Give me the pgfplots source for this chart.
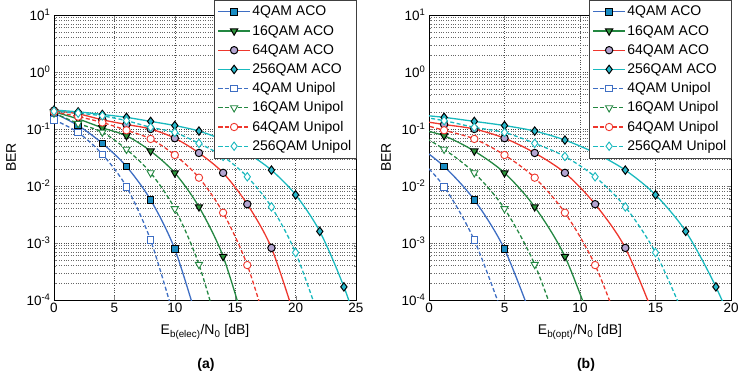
\documentclass[border=0pt]{standalone}
\usepackage{pgfplots}
\pgfplotsset{compat=1.18}
\usepackage{pgfplotstable}
\usepackage{fontspec}
\setmainfont{Liberation Sans}

\definecolor{cblue}{RGB}{62,110,195}
\definecolor{cbluefill}{RGB}{25,140,195}
\definecolor{cgreen}{RGB}{35,135,65}
\definecolor{cgreenfill}{RGB}{45,150,60}
\definecolor{cred}{RGB}{238,55,45}
\definecolor{cpurple}{RGB}{180,165,210}
\definecolor{ccyan}{RGB}{25,185,190}
\definecolor{ccyanfill}{RGB}{40,185,205}

\pgfplotstableread{
x   aA      aB      aC      aD      uA      uB      uC      uD
0   0.19    0.20    0.21    0.215   0.145   0.19    0.20    0.205
2   0.115   0.15    0.185   0.20    0.087   0.125   0.165   0.19
4   0.056   0.105   0.145   0.18    0.036   0.088   0.13    0.17
6   0.022   0.076   0.12    0.16    0.0097  0.044   0.095   0.14
8   0.0057  0.041   0.10    0.136   0.00112 0.017   0.067   0.107
10  7.8e-4  0.017   0.069   0.115   4.5e-5  0.0040  0.035   0.087
12  3.5e-5  0.0043  0.038   0.092   nan     4.2e-4  0.014   0.056
14  nan     5.8e-4  0.017   0.064   nan     1.5e-5  0.0034  0.033
16  nan     2.5e-5  0.0048  0.038   nan     nan     4.1e-4  0.0145
18  nan     nan     8.2e-4  0.019   nan     nan     1.8e-5  0.0043
20  nan     nan     4.5e-5  0.007   nan     nan     nan     6.8e-4
22  nan     nan     nan     0.0016  nan     nan     nan     4.5e-5
24  nan     nan     nan     1.7e-4  nan     nan     nan     nan
26  nan     nan     nan     1.0e-5  nan     nan     nan     nan
}\berdata

\tikzset{
  acoA/.style={cblue, solid, line width=1.3pt, smooth, mark=square*, mark size=3.3pt, mark options={solid, fill=cbluefill, draw=black, line width=1pt}},
  acoB/.style={cgreen, solid, line width=1.3pt, smooth, mark=triangle*, mark size=4.2pt, mark options={solid, rotate=180, fill=cgreenfill, draw=black, line width=1pt}},
  acoC/.style={cred, solid, line width=1.3pt, smooth, mark=*, mark size=3.7pt, mark options={solid, fill=cpurple, draw=black, line width=1pt}},
  acoD/.style={ccyan, solid, line width=1.3pt, smooth, mark=diamond*, mark size=4.2pt, mark options={solid, fill=ccyanfill, draw=black, line width=1pt}},
  uniA/.style={cblue, dash pattern=on 4pt off 2.5pt, line width=1.3pt, smooth, mark=square*, mark size=3.3pt, mark options={solid, fill=white, draw=cblue, line width=0.9pt}},
  uniB/.style={cgreen, dash pattern=on 4pt off 2.5pt, line width=1.3pt, smooth, mark=triangle*, mark size=4.2pt, mark options={solid, rotate=180, fill=white, draw=cgreen, line width=0.9pt}},
  uniC/.style={cred, dash pattern=on 4pt off 2.5pt, line width=1.3pt, smooth, mark=*, mark size=3.7pt, mark options={solid, fill=white, draw=cred, line width=0.9pt}},
  uniD/.style={ccyan, dash pattern=on 4pt off 2.5pt, line width=1.3pt, smooth, mark=diamond*, mark size=4.2pt, mark options={solid, fill=white, draw=ccyan, line width=0.9pt}},
}

\begin{document}
\begin{tikzpicture}
\path[use as bounding box] (0pt,0pt) rectangle (739pt,378pt);

% ---------- (a) ----------
\begin{axis}[at={(54pt,78pt)}, anchor=south west,
    scale only axis, width=302pt, height=285pt,
    ymode=log, ymin=1e-4, ymax=10,
    ytick={1e-4,1e-3,1e-2,1e-1,1,10},
    yticklabels={10\textsuperscript{-4},10\textsuperscript{-3},10\textsuperscript{-2},10\textsuperscript{-1},10\textsuperscript{0},10\textsuperscript{1}},
    minor ytick={2e-4,3e-4,4e-4,5e-4,6e-4,7e-4,8e-4,9e-4,2e-3,3e-3,4e-3,5e-3,6e-3,7e-3,8e-3,9e-3,2e-2,3e-2,4e-2,5e-2,6e-2,7e-2,8e-2,9e-2,0.2,0.3,0.4,0.5,0.6,0.7,0.8,0.9,2,3,4,5,6,7,8,9},
    grid=both,
    major grid style={dotted, black!70, line width=0.5pt},
    minor grid style={dotted, black!60, line width=0.5pt},
    major tick length=4pt, minor tick length=2pt,
    axis line style={black, line width=0.6pt},
    /pgf/number format/assume math mode=true,
    tick label style={font=\fontsize{13.5}{16}\selectfont},
    xlabel style={font=\fontsize{14}{17}\selectfont, at={(axis description cs:0.5,-0.112)}, anchor=center},
    ylabel style={font=\fontsize{14}{17}\selectfont, at={(axis description cs:-0.142,0.5)}, anchor=center},
    ylabel={BER},
    legend style={at={(axis description cs:1,1.0526)}, anchor=north east,
      font=\fontsize{14}{17}\selectfont, draw=black!75, fill=white,
      inner xsep=3pt, inner ysep=2pt,
      nodes={inner sep=1.6pt, text height=12pt, text depth=4pt}},
    legend cell align=left,
    legend image code/.code={\draw[mark repeat=2,mark phase=2] plot coordinates {(0pt,0pt) (16pt,0pt) (32pt,0pt)};},
  xmin=0, xmax=25, xtick={0,5,10,15,20,25},
  xlabel={E\textsubscript{b(elec)}/N\textsubscript{0} [dB]}]
\addplot[acoA] table[x=x, y=aA] {\berdata};
\addplot[acoB] table[x=x, y=aB] {\berdata};
\addplot[acoC] table[x=x, y=aC] {\berdata};
\addplot[acoD] table[x=x, y=aD] {\berdata};
\addplot[uniA] table[x=x, y=uA] {\berdata};
\addplot[uniB] table[x=x, y=uB] {\berdata};
\addplot[uniC] table[x=x, y=uC] {\berdata};
\addplot[uniD] table[x=x, y=uD] {\berdata};
\legend{4QAM ACO,16QAM ACO,64QAM ACO,256QAM ACO,4QAM Unipol,16QAM Unipol,64QAM Unipol,256QAM Unipol}
\end{axis}

% ---------- (b) ----------
\begin{axis}[at={(429pt,78pt)}, anchor=south west,
    scale only axis, width=302pt, height=285pt,
    ymode=log, ymin=1e-4, ymax=10,
    ytick={1e-4,1e-3,1e-2,1e-1,1,10},
    yticklabels={10\textsuperscript{-4},10\textsuperscript{-3},10\textsuperscript{-2},10\textsuperscript{-1},10\textsuperscript{0},10\textsuperscript{1}},
    minor ytick={2e-4,3e-4,4e-4,5e-4,6e-4,7e-4,8e-4,9e-4,2e-3,3e-3,4e-3,5e-3,6e-3,7e-3,8e-3,9e-3,2e-2,3e-2,4e-2,5e-2,6e-2,7e-2,8e-2,9e-2,0.2,0.3,0.4,0.5,0.6,0.7,0.8,0.9,2,3,4,5,6,7,8,9},
    grid=both,
    major grid style={dotted, black!70, line width=0.5pt},
    minor grid style={dotted, black!60, line width=0.5pt},
    major tick length=4pt, minor tick length=2pt,
    axis line style={black, line width=0.6pt},
    /pgf/number format/assume math mode=true,
    tick label style={font=\fontsize{13.5}{16}\selectfont},
    xlabel style={font=\fontsize{14}{17}\selectfont, at={(axis description cs:0.5,-0.112)}, anchor=center},
    ylabel style={font=\fontsize{14}{17}\selectfont, at={(axis description cs:-0.142,0.5)}, anchor=center},
    ylabel={BER},
    legend style={at={(axis description cs:1,1.0526)}, anchor=north east,
      font=\fontsize{14}{17}\selectfont, draw=black!75, fill=white,
      inner xsep=3pt, inner ysep=2pt,
      nodes={inner sep=1.6pt, text height=12pt, text depth=4pt}},
    legend cell align=left,
    legend image code/.code={\draw[mark repeat=2,mark phase=2] plot coordinates {(0pt,0pt) (16pt,0pt) (32pt,0pt)};},
  xmin=0, xmax=20, xtick={0,5,10,15,20},
  xlabel={E\textsubscript{b(opt)}/N\textsubscript{0} [dB]}]
\addplot[acoA] table[x expr=\thisrow{x}-5, y=aA] {\berdata};
\addplot[acoB] table[x expr=\thisrow{x}-5, y=aB] {\berdata};
\addplot[acoC] table[x expr=\thisrow{x}-5, y=aC] {\berdata};
\addplot[acoD] table[x expr=\thisrow{x}-5, y=aD] {\berdata};
\addplot[uniA] table[x expr=\thisrow{x}-5, y=uA] {\berdata};
\addplot[uniB] table[x expr=\thisrow{x}-5, y=uB] {\berdata};
\addplot[uniC] table[x expr=\thisrow{x}-5, y=uC] {\berdata};
\addplot[uniD] table[x expr=\thisrow{x}-5, y=uD] {\berdata};
\legend{4QAM ACO,16QAM ACO,64QAM ACO,256QAM ACO,4QAM Unipol,16QAM Unipol,64QAM Unipol,256QAM Unipol}
\end{axis}

\node[font=\fontsize{14}{17}\selectfont\bfseries] at (206pt,13pt) {(a)};
\node[font=\fontsize{14}{17}\selectfont\bfseries] at (586pt,13pt) {(b)};
\end{tikzpicture}
\end{document}
